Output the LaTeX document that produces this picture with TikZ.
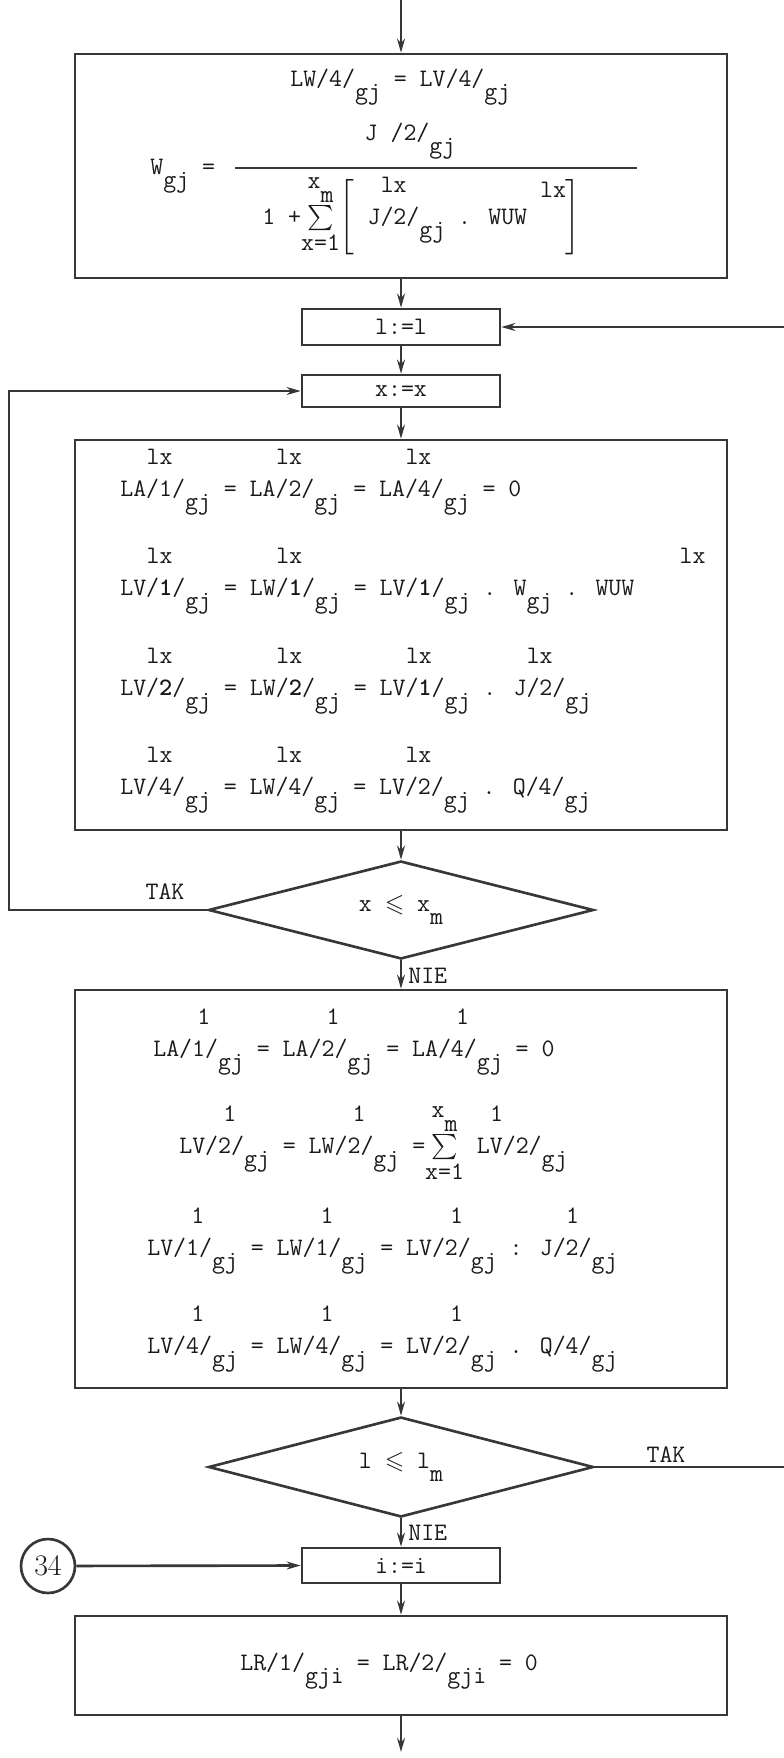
\documentclass[tikz,border=0pt]{standalone}
\usepackage{amsmath,amssymb}
\usepackage{fontspec}
\usetikzlibrary{arrows.meta,shapes.geometric}
\definecolor{ink}{RGB}{55,55,55}

% typewriter text: index typed a line above, subscript half a line below
\newcommand{\tw}{\fontsize{14.3}{17}\selectfont\ttfamily}
\newcommand{\tup}[2][1.05em]{\makebox[0pt][l]{\hspace*{#1}\raisebox{1.25em}{#2}}}
\newcommand{\tdn}[1]{\raisebox{-0.55em}{#1}}
\newcommand{\tsum}[2]{$\textstyle\sum\limits_{\mbox{#2}}^{\mbox{#1}}$}

\begin{document}
\begin{tikzpicture}[x=0.02cm, y=-0.02cm, >={Stealth[length=8pt,width=4.5pt]},
  box/.style={draw=ink, line width=1.5pt, rectangle, inner sep=0pt},
  cond/.style={draw=ink, line width=1.5pt, diamond, shape aspect=4, inner sep=0pt, font=\tw, text=black!90},
  txt/.style={inner sep=0pt, anchor=base west, font=\tw, text=black!90},
  lbl/.style={inner sep=0pt, font=\tw, text=black!90},
  flow/.style={draw=ink, line width=1.5pt}]

  \useasboundingbox (0,0) rectangle (784,1758);

  %% ===== weights W =====
  \node[box, minimum width=13.04cm, minimum height=4.48cm] (blk1) at (401,166) {};
  \node[txt] (w1) at (290,86) {LW/4/\tdn{gj} = LV/4/\tdn{gj}};
  \node[txt] (w2) at (150,174) {W\tdn{gj} =};
  \draw[ink, line width=1.2pt] (235,168) -- (637,168);
  \node[txt, anchor=base] (w3) at (410,140) {J /2/\tdn{gj}};
  \node[txt] (w4) at (262,224)
    {1 +\tsum{x\tdn{m}}{x=1}$\Bigg[$ \tup[0.525em]{lx}J/2/\tdn{gj} . WUW\raisebox{1.05em}{ lx}$\Bigg]$};

  %% ===== loop heads =====
  \node[box, minimum width=3.96cm, minimum height=0.72cm, font=\tw, text=black!90] (setl) at (401,327) {l:=l};
  \node[box, minimum width=3.96cm, minimum height=0.64cm, font=\tw, text=black!90] (setx) at (401,391) {x:=x};

  %% ===== flows for one x =====
  \node[box, minimum width=13.04cm, minimum height=7.8cm] (blk2) at (401,635) {};
  \node[txt] (r1) at (120,496)
    {\tup{lx}LA/1/\tdn{gj} = \tup{lx}LA/2/\tdn{gj} = \tup{lx}LA/4/\tdn{gj} = 0};
  \node[txt] (r2) at (120,595)
    {\tup{lx}LV/\textbf{1}/\tdn{gj} = \tup{lx}LW/\textbf{1}/\tdn{gj} = LV/\textbf{1}/\tdn{gj} . W\tdn{gj} . WUW\hspace{1.8em}\raisebox{1.25em}{lx}};
  \node[txt] (r3) at (120,695)
    {\tup{lx}LV/\textbf{2}/\tdn{gj} = \tup{lx}LW/\textbf{2}/\tdn{gj} = \tup{lx}LV/\textbf{1}/\tdn{gj} . \tup[0.525em]{lx}J/2/\tdn{gj}};
  \node[txt] (r4) at (120,794)
    {\tup{lx}LV/4/\tdn{gj} = \tup{lx}LW/4/\tdn{gj} = \tup{lx}LV/2/\tdn{gj} . Q/4/\tdn{gj}};

  \node[cond, minimum width=7.7cm, minimum height=1.96cm] (dec1) at (401,910) {x $\leqslant$ x\tdn{m}};

  %% ===== totals for l =====
  \node[box, minimum width=13.04cm, minimum height=7.96cm] (blk3) at (401,1189) {};
  \node[txt] (s1) at (153,1056)
    {\tup[1.75em]{1}LA/1/\tdn{gj} = \tup[1.75em]{1}LA/2/\tdn{gj} = \tup[1.75em]{1}LA/4/\tdn{gj} = 0};
  \node[txt] (s2) at (179,1153)
    {\tup[1.75em]{1}LV/2/\tdn{gj} = \tup[1.75em]{1}LW/2/\tdn{gj} =\tsum{x\tdn{m}}{x=1} \tup[0.525em]{1}LV/2/\tdn{gj}};
  \node[txt] (s3) at (147,1255)
    {\tup[1.75em]{1}LV/1/\tdn{gj} = \tup[1.75em]{1}LW/1/\tdn{gj} = \tup[1.75em]{1}LV/2/\tdn{gj} : \tup[1.05em]{1}J/2/\tdn{gj}};
  \node[txt] (s4) at (147,1353)
    {\tup[1.75em]{1}LV/4/\tdn{gj} = \tup[1.75em]{1}LW/4/\tdn{gj} = \tup[1.75em]{1}LV/2/\tdn{gj} . Q/4/\tdn{gj}};

  \node[cond, minimum width=7.7cm, minimum height=2cm] (dec2) at (401,1467) {l $\leqslant$ l\tdn{m}};

  %% ===== next i =====
  \node[box, minimum width=3.96cm, minimum height=0.7cm, font=\tw, text=black!90] (seti) at (401,1565.5) {i:=i};
  \node[draw=ink, line width=1.5pt, circle, minimum size=1.08cm, inner sep=0pt,
    font=\fontsize{17}{20}\selectfont, text=black!90] (c34) at (48,1566) {34};

  \node[box, minimum width=13.04cm, minimum height=1.98cm] (blk4) at (401,1665.5) {};
  \node[txt] (q1) at (240,1670) {LR/1/\tdn{gji} = LR/2/\tdn{gji} = 0};

  % Labels
  \node[lbl] (tak1) at (165,892) {TAK};
  \node[lbl, anchor=west] (nie1) at (408,976) {NIE};
  \node[lbl] (tak2) at (666,1455) {TAK};
  \node[lbl, anchor=west] (nie2) at (408,1533) {NIE};

  % Connectors
  \coordinate (in) at (401,0);
  \coordinate (rin) at (784,327);
  \coordinate (lp) at (9,910);
  \coordinate (rout) at (784,1467);
  \coordinate (out) at (401,1752);

  \draw[flow, ->] (in) -- (blk1);
  \draw[flow, ->] (blk1) -- (setl);
  \draw[flow, ->] (rin) -- (setl.east);
  \draw[flow, ->] (setl) -- (setx);
  \draw[flow, ->] (setx) -- (blk2);
  \draw[flow, ->] (blk2) -- (dec1);
  \draw[flow, ->] (dec1.west) -- (lp) |- (setx.west);
  \draw[flow, ->] (dec1) -- (blk3);
  \draw[flow, ->] (blk3) -- (dec2);
  \draw[flow] (dec2.east) -- (rout);
  \draw[flow, ->] (dec2) -- (seti);
  \draw[flow, ->] (c34) -- (seti.west);
  \draw[flow, ->] (seti) -- (blk4);
  \draw[flow, ->] (blk4) -- (out);

\end{tikzpicture}
\end{document}
